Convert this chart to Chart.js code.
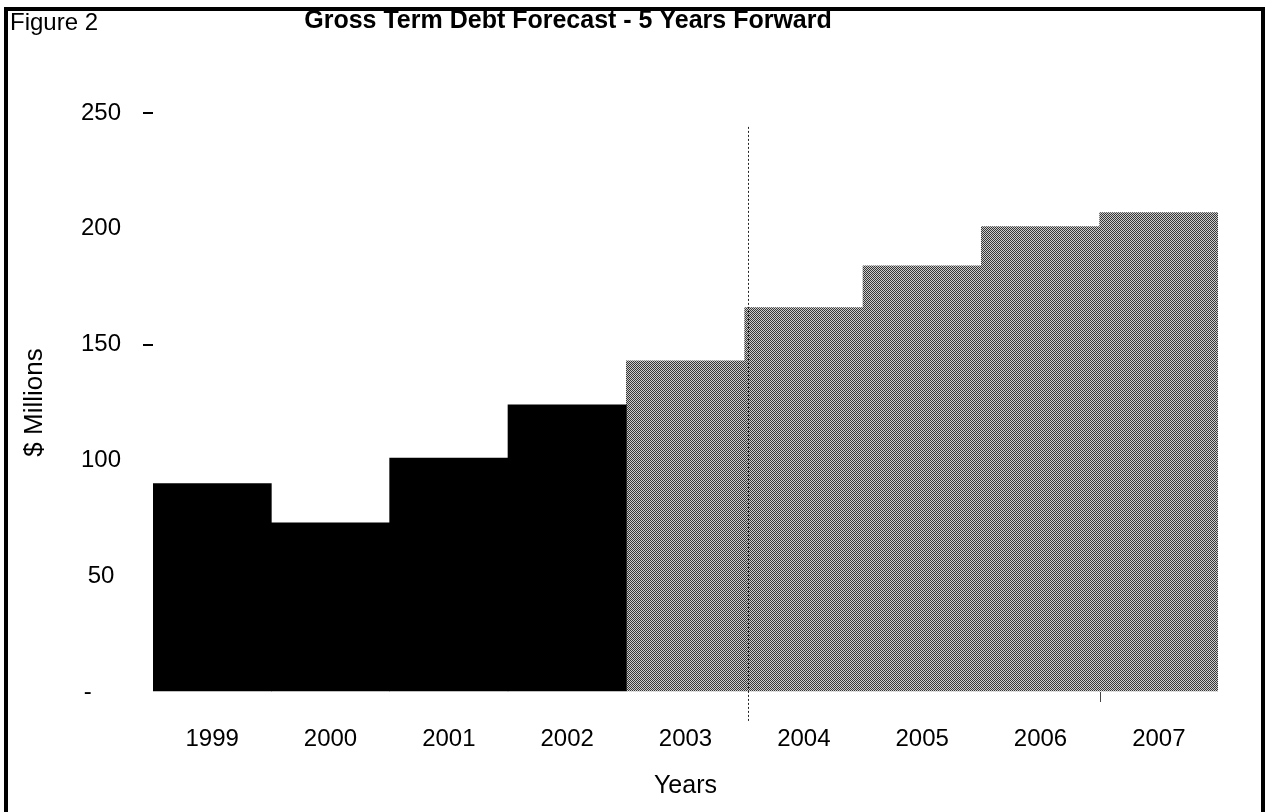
<!DOCTYPE html>
<html>
<head>
<meta charset="utf-8">
<script src="https://cdn.jsdelivr.net/npm/chart.js@4/dist/chart.umd.min.js"></script>
<style>
  html, body { margin: 0; padding: 0; background: #fff; }
  #wrap { width: 1269px; height: 812px; position: relative; }
</style>
</head>
<body>
<div id="wrap"><canvas id="chart" width="1269" height="812"></canvas></div>
<script>
// Gross term debt, $ millions
const years = ['1999', '2000', '2001', '2002', '2003', '2004', '2005', '2006', '2007'];
const actualDebt = [90, 73, 101, 124, null, null, null, null, null];
const forecastDebt = [null, null, null, null, 143, 166, 184, 201, 207];
const yTickValues = [0, 50, 100, 150, 200, 250];

const FONT = "'Liberation Sans', Arial, sans-serif";

// fine checker fill used for the forecast years
function checkerPattern() {
  const c = document.createElement('canvas');
  c.width = 2; c.height = 2;
  const g = c.getContext('2d');
  g.fillStyle = '#cccccc'; g.fillRect(0, 0, 2, 2);
  g.fillStyle = '#363636'; g.fillRect(0, 0, 1, 1); g.fillRect(1, 1, 1, 1);
  return g.createPattern(c, 'repeat');
}
const ctx = document.getElementById('chart').getContext('2d');
const forecastFill = checkerPattern();

const framePlugin = {
  id: 'frame',
  beforeDraw(chart) {
    const c = chart.ctx;
    c.save();
    c.fillStyle = '#fff';
    c.fillRect(0, 0, chart.width, chart.height);
    c.restore();
  },
  afterDraw(chart) {
    const c = chart.ctx;
    const xs = chart.scales.x, ys = chart.scales.y;
    const area = chart.chartArea;
    c.save();
    // forecast divider between 2003 and 2004
    const xDiv = (xs.getPixelForValue(4) + xs.getPixelForValue(5)) / 2 + 3;
    c.strokeStyle = '#222';
    c.lineWidth = 1;
    c.setLineDash([2, 2]);
    c.beginPath();
    c.moveTo(Math.round(xDiv) + 0.5, ys.getPixelForValue(244));
    c.lineTo(Math.round(xDiv) + 0.5, area.bottom + 30);
    c.stroke();
    c.setLineDash([]);
    // small mark under the 2006/2007 boundary
    const xMark = (xs.getPixelForValue(7) + xs.getPixelForValue(8)) / 2;
    c.strokeStyle = '#444';
    c.beginPath();
    c.moveTo(Math.round(xMark) + 0.5, area.bottom);
    c.lineTo(Math.round(xMark) + 0.5, area.bottom + 10);
    c.stroke();
    // outer frame
    c.strokeStyle = '#000';
    c.lineWidth = 4;
    c.strokeRect(6, 9, chart.width - 12, chart.height + 40);
    // headings
    c.fillStyle = '#000';
    c.textBaseline = 'middle';
    c.textAlign = 'left';
    c.font = '24px ' + FONT;
    c.fillText('Figure 2', 10, 23);
    c.textAlign = 'center';
    c.font = 'bold 25px ' + FONT;
    c.fillText('Gross Term Debt Forecast - 5 Years Forward', 568, 21);
    c.restore();
  }
};

new Chart(ctx, {
  type: 'bar',
  data: {
    labels: years,
    datasets: [
      { label: 'Actual', data: actualDebt, backgroundColor: '#000', borderWidth: 0,
        barPercentage: 1, categoryPercentage: 1 },
      { label: 'Forecast', data: forecastDebt, backgroundColor: forecastFill, borderWidth: 0,
        barPercentage: 1, categoryPercentage: 1 }
    ]
  },
  options: {
    responsive: false,
    animation: false,
    devicePixelRatio: 1,
    layout: { padding: { top: 113, right: 51, left: 0, bottom: 0 } },
    plugins: { legend: { display: false }, tooltip: { enabled: false }, title: { display: false } },
    scales: {
      x: {
        stacked: true,
        grid: { display: false },
        border: { display: false },
        ticks: { color: '#000', font: { family: FONT, size: 24 }, padding: 25, maxRotation: 0, autoSkip: false },
        title: { display: true, text: 'Years', color: '#000', font: { family: FONT, size: 25 },
                 padding: { top: 0, bottom: 11 } },
        afterFit(scale) { scale.height = 120; }
      },
      y: {
        stacked: true,
        min: 0,
        max: 250,
        afterBuildTicks(scale) { scale.ticks = yTickValues.map(v => ({ value: v })); },
        grid: {
          drawOnChartArea: false,
          drawTicks: true,
          tickLength: 10,
          lineWidth: 2,
          tickColor: c => (c.tick && (c.tick.value === 250 || c.tick.value === 150)) ? '#000' : 'rgba(0,0,0,0)'
        },
        border: { display: false },
        ticks: {
          color: '#000',
          font: { family: FONT, size: 24 },
          crossAlign: 'center',
          padding: 22,
          callback: v => v === 0 ? '-    ' : String(v)
        },
        title: { display: true, text: '$ Millions', color: '#000', font: { family: FONT, size: 26 },
                 padding: { top: 19, bottom: 0 } },
        afterFit(scale) { scale.width = 153; }
      }
    }
  },
  plugins: [framePlugin]
});
</script>
</body>
</html>
